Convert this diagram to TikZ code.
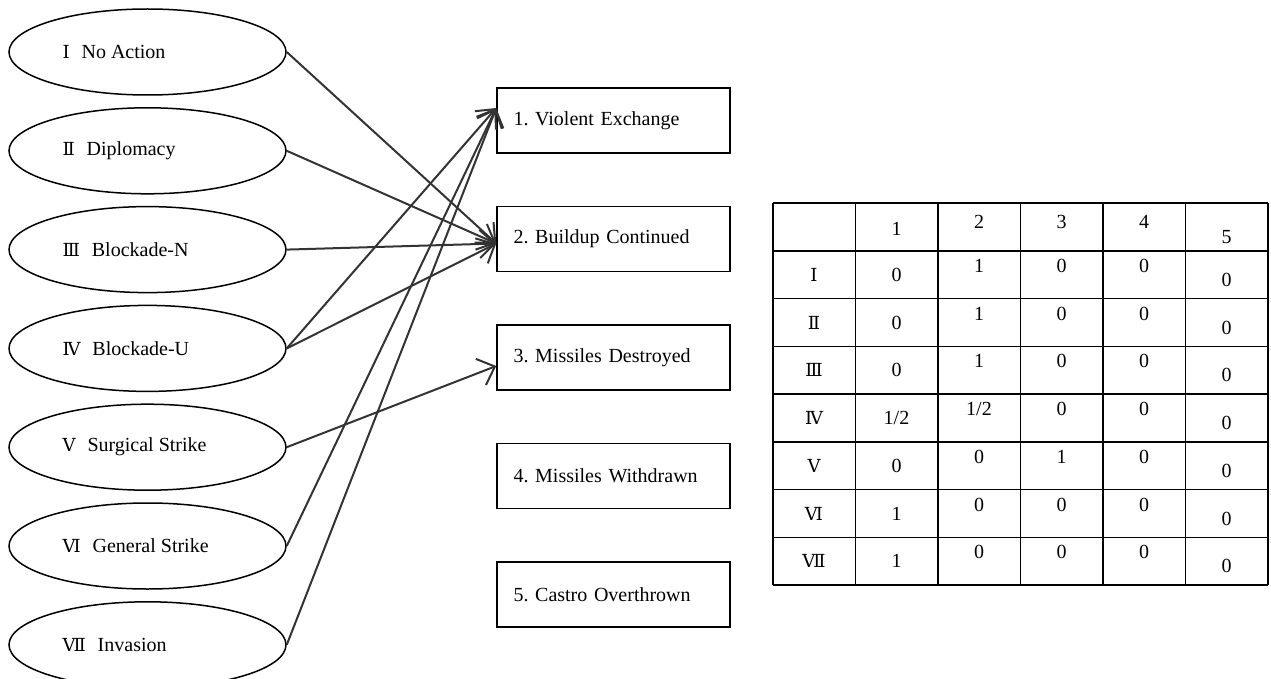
\documentclass[tikz,border=0pt]{standalone}
\usepackage{fontspec}
\setmainfont{Liberation Serif}
\newfontfamily\rnfont{DejaVu Serif}
\usetikzlibrary{arrows.meta,positioning,shapes.geometric}
\newcommand{\rnum}[1]{{\rnfont\fontsize{18}{22}\selectfont #1}}
\newcommand{\opt}[2]{\makebox[170pt][l]{\rnum{#1}\hspace{12pt}#2}}
\frenchspacing

\begin{document}
\begin{tikzpicture}[
    x=1pt, y=-1pt,
    font=\fontsize{20}{24}\selectfont,
    node distance=11.3pt,
    choice/.style={draw, ellipse, line width=1.5pt, minimum width=277pt, minimum height=86pt, inner sep=0pt},
    outcome/.style={draw, rectangle, line width=1.5pt, minimum width=233pt, minimum height=65pt, text width=200pt, inner xsep=16.5pt, align=left},
    link/.style={-{Straight Barb[length=15pt,width=28pt]}, line width=2pt, draw=black!80},
    cell/.style={inner sep=0pt}
]
\useasboundingbox (0,0) rectangle (1271,679);

% options
\node[choice] (noaction) at (147.5,52) {\opt{Ⅰ}{No Action}};
\node[choice, below=of noaction] (diplomacy) {\opt{Ⅱ}{Diplomacy}};
\node[choice, below=of diplomacy] (blockaden) {\opt{Ⅲ}{Blockade-N}};
\node[choice, below=of blockaden] (blockadeu) {\opt{Ⅳ}{Blockade-U}};
\node[choice, below=of blockadeu] (surgical) {\opt{Ⅴ}{Surgical Strike}};
\node[choice, below=of surgical] (general) {\opt{Ⅵ}{General Strike}};
\node[choice, below=of general] (invasion) {\opt{Ⅶ}{Invasion}};

% outcomes
\node[outcome] (violent) at (613.5,120.5) {1. Violent Exchange};
\node[outcome, below=52pt of violent] (buildup) {2. Buildup Continued};
\node[outcome, below=52pt of buildup] (destroyed) {3. Missiles Destroyed};
\node[outcome, below=52pt of destroyed] (withdrawn) {4. Missiles Withdrawn};
\node[outcome, below=52pt of withdrawn] (overthrown) {5. Castro Overthrown};

\draw[link] (noaction.east) -- ([yshift=-4.5pt]buildup.west);
\draw[link] (diplomacy.east) -- ([yshift=-4.5pt]buildup.west);
\draw[link] (blockaden.east) -- ([yshift=-4.5pt]buildup.west);
\draw[link] (blockadeu.east) -- ([yshift=12.5pt]violent.west);
\draw[link] (blockadeu.east) -- ([yshift=-4.5pt]buildup.west);
\draw[link] (surgical.east) -- ([yshift=-8.5pt]destroyed.west);
\draw[link] (general.east) -- ([yshift=12.5pt]violent.west);
\draw[link] (invasion.east) -- ([yshift=12.5pt]violent.west);

% table
\foreach \i in {0,...,8}
  \draw[line width=1.5pt] (773,203+\i*47.75) -- (1268,203+\i*47.75);
\foreach \i in {0,...,6}
  \draw[line width=1.5pt] (773+\i*82.5,203) -- (773+\i*82.5,585);
\foreach \h/\dy [count=\c] in {1/2,2/-5,3/-5,4/-5,5/10}
  \node[cell] (cell-0-\c) at (814+\c*82.5,227+\dy) {\h};
\foreach \rn/\row [count=\r] in {Ⅰ/{0,1,0,0,0},Ⅱ/{0,1,0,0,0},Ⅲ/{0,1,0,0,0},Ⅳ/{1/2,1/2,0,0,0},Ⅴ/{0,0,1,0,0},Ⅵ/{1,0,0,0,0},Ⅶ/{1,0,0,0,0}} {
  \node[cell] (cell-\r-0) at (814,227+\r*47.75) {\rnum{\rn}};
  \foreach \v [count=\c] in \row {
    \pgfmathsetmacro{\dy}{{0,-9,-9,-9,5}[\c-1]}
    \node[cell] (cell-\r-\c) at (814+\c*82.5,227+\r*47.75+\dy) {\v};
  }
}
\end{tikzpicture}
\end{document}
